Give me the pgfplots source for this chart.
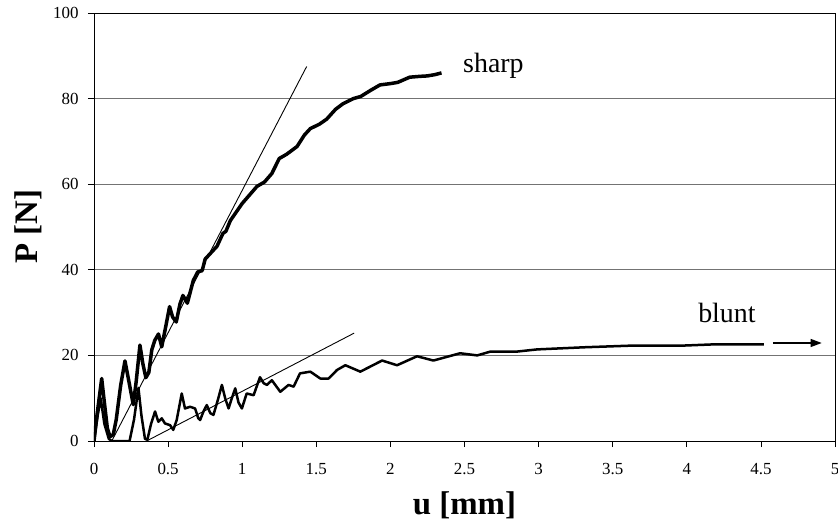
\documentclass[border=0pt]{standalone}
\usepackage{fontspec}
\setmainfont{Liberation Serif}
\usepackage{pgfplots}
\pgfplotsset{compat=1.18}
\usetikzlibrary{arrows.meta}

\begin{document}
\begin{tikzpicture}
\begin{axis}[
  name=ax,
  scale only axis,
  width=741bp, height=428bp,
  xmin=0, xmax=5, ymin=0, ymax=100,
  xtick={0,0.5,1,1.5,2,2.5,3,3.5,4,4.5,5},
  ytick={0,20,40,60,80,100},
  tick pos=left, tick align=outside, major tick length=6bp,
  ymajorgrids, grid style={black!55, line width=0.8bp},
  axis line style={line width=0.8bp},
  tick style={black, line width=0.8bp},
  /pgf/number format/assume math mode=true,
  ticklabel style={font=\fontsize{17}{20}\selectfont},
  xticklabel style={yshift=-13bp},
  yticklabel style={xshift=-6bp},
  xlabel={u [mm]}, ylabel={P [N]},
  label style={font=\bfseries\fontsize{33}{36}\selectfont},
  xlabel style={at={(axis description cs:0.5,-0.15)}, anchor=center},
  ylabel style={at={(axis description cs:-0.089,0.5)}, anchor=center},
]
% tangent lines
\addplot[black, line width=0.9bp] coordinates {(0.12,0) (1.435,87.5)};
\addplot[black, line width=0.9bp] coordinates {(0.355,0) (1.755,25.2)};

% sharp
\addplot[black, line width=3.5bp, line join=round] coordinates {
 (0,0) (0.02,6) (0.052,14.6) (0.07,9) (0.09,3) (0.108,1) (0.13,1.5)
 (0.15,5) (0.18,13) (0.209,18.7) (0.235,14) (0.265,8.5) (0.285,14)
 (0.31,22.4) (0.33,18) (0.35,14.8) (0.37,16) (0.39,21.3) (0.41,23.5)
 (0.435,25) (0.457,22) (0.48,26) (0.51,31.4) (0.53,29) (0.555,27.8)
 (0.58,32) (0.6,34) (0.63,32.2) (0.67,37.5) (0.70,39.5) (0.73,39.8)
 (0.75,42.5) (0.79,44) (0.83,45.5) (0.87,48.5) (0.89,49) (0.92,51.5)
 (0.96,53.5) (1.0,55.5) (1.05,57.5) (1.10,59.5) (1.15,60.5) (1.2,62.5)
 (1.25,66) (1.3,67) (1.37,68.8) (1.42,71.5) (1.46,73) (1.52,74)
 (1.57,75.2) (1.63,77.5) (1.68,78.8) (1.75,80) (1.8,80.5) (1.87,82)
 (1.93,83.2) (2.0,83.5) (2.05,83.8) (2.13,85) (2.2,85.2) (2.25,85.3)
 (2.3,85.6) (2.345,86.0)
};

% blunt
\addplot[black, line width=2.5bp, line join=round] coordinates {
 (0,0) (0.025,6) (0.045,10) (0.07,4) (0.1,0.5) (0.12,0) (0.24,0)
 (0.27,5) (0.3,12.4) (0.32,6) (0.344,0.5) (0.36,0.3) (0.385,4)
 (0.412,6.9) (0.434,4.5) (0.457,5.3) (0.479,4.1) (0.513,3.7) (0.535,2.6)
 (0.558,4.9) (0.592,11.1) (0.614,7.6) (0.648,8.0) (0.682,7.6) (0.704,5.3)
 (0.716,4.9) (0.74,7.0) (0.761,8.4) (0.785,6.5) (0.806,6.1) (0.835,9.5)
 (0.863,13.1) (0.885,10) (0.908,7.6) (0.93,10) (0.953,12.3) (0.975,9)
 (0.998,7.6) (1.03,11.1) (1.077,10.7) (1.12,14.9) (1.145,13.5) (1.167,13.1)
 (1.2,14.2) (1.257,11.5) (1.313,13.1) (1.347,12.7) (1.39,15.8) (1.46,16.2)
 (1.527,14.6) (1.583,14.6) (1.64,16.6) (1.696,17.7) (1.797,16.2) (1.865,17.4)
 (1.944,18.8) (2.045,17.7) (2.18,19.8) (2.29,18.8) (2.47,20.5) (2.586,20.0)
 (2.676,20.9) (2.856,20.9) (2.99,21.4) (3.31,21.9) (3.64,22.3) (3.98,22.3)
 (4.2,22.6) (4.52,22.6)
};

% arrow after blunt
\addplot[black, line width=1.2bp, -{Triangle[length=11bp,width=8bp]}] coordinates {(4.58,22.9) (4.91,22.9)};

\node[anchor=base west, font=\fontsize{28}{30}\selectfont, inner sep=0pt] at (axis cs:2.49,86.0) {sharp};
\node[anchor=base west, font=\fontsize{28}{30}\selectfont, inner sep=0pt] at (axis cs:4.076,27.8) {blunt};
\end{axis}
\pgfresetboundingbox
\path[use as bounding box] ([xshift=-94bp,yshift=-83bp]ax.south west) rectangle ([xshift=3bp,yshift=13bp]ax.north east);
\end{tikzpicture}
\end{document}
